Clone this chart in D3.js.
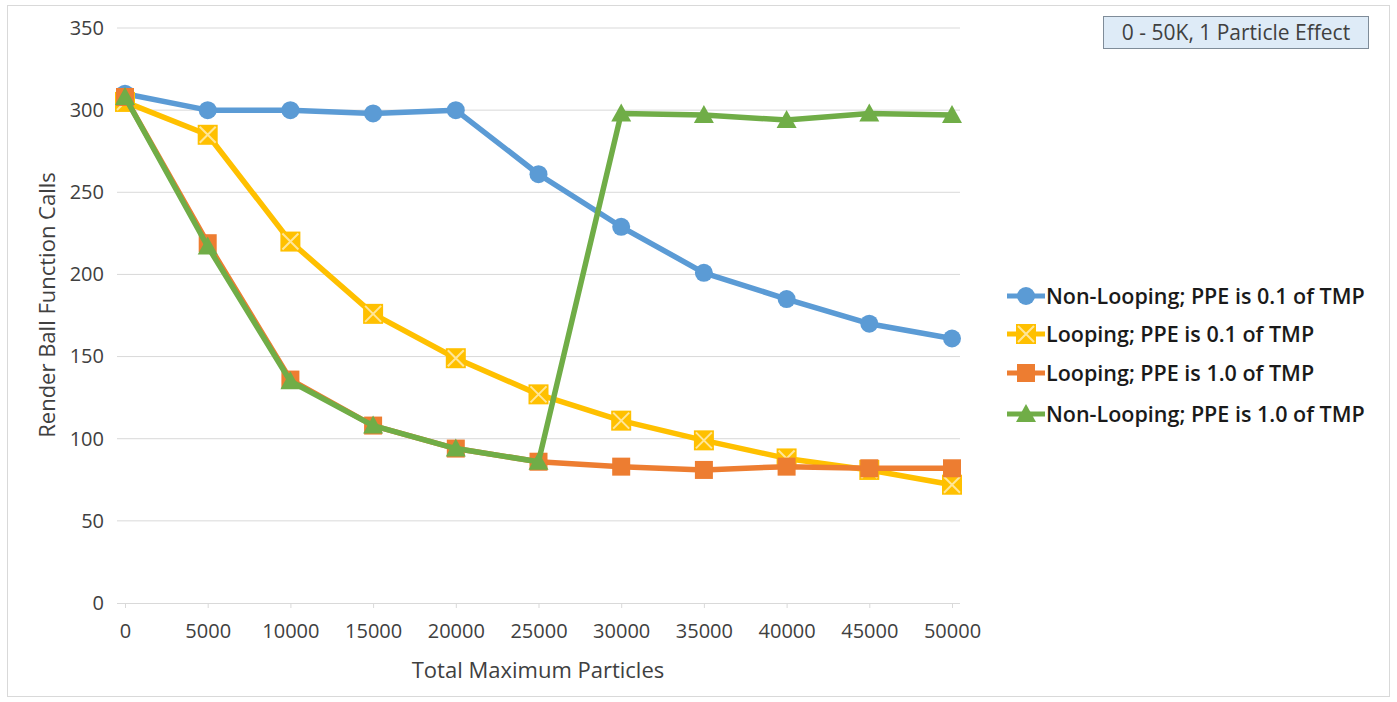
<!DOCTYPE html>
<html><head><meta charset="utf-8">
<script src="https://cdn.jsdelivr.net/npm/d3@7"></script>
<style>body{margin:0;background:#fff;}svg{display:block;}text{font-family:"Open Sans",Lato,sans-serif;}</style>
</head><body>
<svg id="c" width="1397" height="702"></svg>
<script>
const xValues = [0,5000,10000,15000,20000,25000,30000,35000,40000,45000,50000];
const yTicks = [0,50,100,150,200,250,300,350];
const seriesNames = ["Non-Looping; PPE is 0.1 of TMP","Looping; PPE is 0.1 of TMP","Looping; PPE is 1.0 of TMP","Non-Looping; PPE is 1.0 of TMP"];
const nonLooping01 = [310,300,300,298,300,261,229,201,185,170,161];
const looping01 = [305,285,220,176,149,127,111,99,88,81,72];
const looping10 = [308,219,136,108,94,86,83,81,83,82,82];
const nonLooping10 = [308,217,135,108,94,86,298,297,294,298,297];
const colors = ["#5B9BD5","#FFC000","#ED7D31","#70AD47"];
const markers = ["circle","xsquare","square","triangle"];
const title = "0 - 50K, 1 Particle Effect";
const xTitle = "Total Maximum Particles";
const yTitle = "Render Ball Function Calls";

const svg = d3.select("#c");
svg.append("rect").attr("x",7.5).attr("y",5.5).attr("width",1382).attr("height",691).attr("fill","#fff").attr("stroke","#d9d9d9");

const x = d3.scalePoint().domain(xValues).range([125,952]);
const y = d3.scaleLinear().domain([0,350]).range([603,28]);

svg.append("g").selectAll("line").data(yTicks.filter(d=>d>0)).join("line")
  .attr("x1",125-8).attr("x2",952+8).attr("y1",d=>y(d)).attr("y2",d=>y(d))
  .attr("stroke","#d9d9d9").attr("stroke-width",1);

const ya = svg.append("g").attr("transform","translate(104,0)")
  .call(d3.axisLeft(y).tickValues(yTicks).tickSize(0).tickPadding(0));
ya.select(".domain").remove();
ya.selectAll("text").attr("font-size",20).attr("fill","#404040").attr("font-family","'Open Sans',sans-serif");

const xa = svg.append("g").attr("transform","translate(0,603)")
  .call(d3.axisBottom(x).tickSize(5).tickPadding(16).tickSizeOuter(0));
xa.select(".domain").attr("d","M117,0.5H960").attr("stroke","#d9d9d9");
xa.selectAll(".tick line").attr("stroke","#d9d9d9");
xa.selectAll("text").attr("font-size",20).attr("fill","#404040").attr("font-family","'Open Sans',sans-serif");

svg.append("text").attr("x",538).attr("y",678).attr("text-anchor","middle").attr("font-size",22).attr("fill","#404040").text(xTitle);
svg.append("text").attr("transform","translate(55,305) rotate(-90)").attr("text-anchor","middle").attr("font-size",22).attr("fill","#404040").text(yTitle);

const allSeries = [nonLooping01, looping01, looping10, nonLooping10];

function drawMarker(g, type, cx, cy, color){
  if(type==="circle"){
    g.append("circle").attr("cx",cx).attr("cy",cy).attr("r",9).attr("fill",color);
  } else if(type==="square"){
    g.append("rect").attr("x",cx-9).attr("y",cy-9).attr("width",18).attr("height",18).attr("fill",color);
  } else if(type==="xsquare"){
    g.append("rect").attr("x",cx-10).attr("y",cy-10).attr("width",20).attr("height",20).attr("fill",color);
    g.append("path").attr("d",`M${cx-8},${cy-8}L${cx+8},${cy+8}M${cx+8},${cy-8}L${cx-8},${cy+8}`).attr("stroke","#FFE699").attr("stroke-width",2);
  } else if(type==="triangle"){
    g.append("path").attr("d",`M${cx},${cy-10}L${cx+10},${cy+8}L${cx-10},${cy+8}Z`).attr("fill",color);
  }
}

const line = d3.line().x((d,i)=>x(xValues[i])).y(d=>y(d));
allSeries.forEach((s,k)=>{
  const g = svg.append("g");
  g.append("path").datum(s).attr("d",line).attr("fill","none").attr("stroke",colors[k]).attr("stroke-width",5.5).attr("stroke-linejoin","round");
  s.forEach((v,i)=>drawMarker(g, markers[k], x(xValues[i]), y(v), colors[k]));
});

const legY = [296,334,373,414];
seriesNames.forEach((n,k)=>{
  const g = svg.append("g");
  g.append("line").attr("x1",1007).attr("x2",1045).attr("y1",legY[k]).attr("y2",legY[k]).attr("stroke",colors[k]).attr("stroke-width",5);
  drawMarker(g, markers[k], 1026, legY[k], colors[k]);
  g.append("text").attr("x",1046).attr("y",legY[k]+8).attr("font-size",21.5).attr("font-weight",600).attr("fill","#1a1a1a").attr("textLength",null).text(n);
});

svg.append("rect").attr("x",1103.5).attr("y",16.5).attr("width",265).attr("height",32).attr("fill","#DEEBF7").attr("stroke","#7f8c99");
svg.append("text").attr("x",1236).attr("y",40).attr("text-anchor","middle").attr("font-size",21).attr("fill","#404040").text(title);
</script>
</body></html>
